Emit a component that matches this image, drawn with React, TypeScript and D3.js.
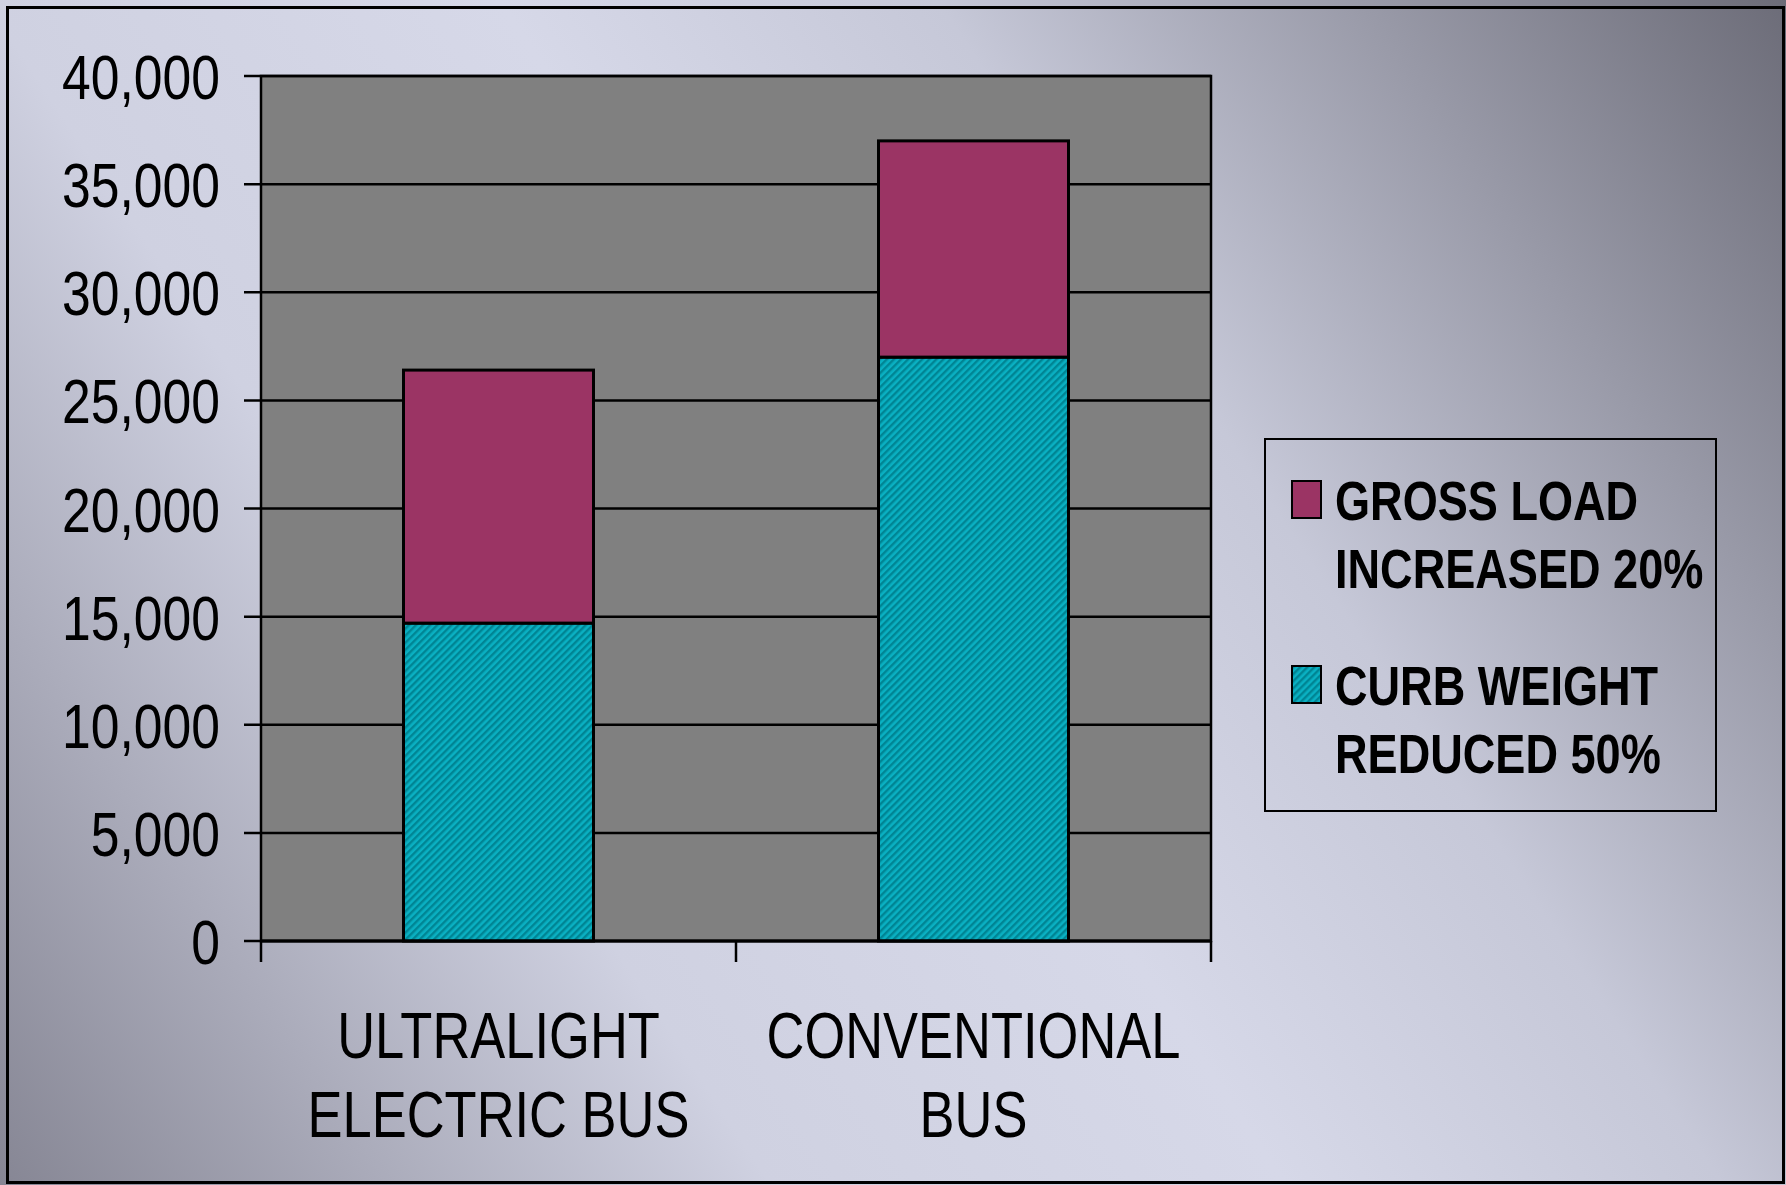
import * as d3 from 'd3';
import { useEffect, useRef } from 'react';

const categories = [['ULTRALIGHT', 'ELECTRIC BUS'], ['CONVENTIONAL', 'BUS']];
const curbWeight = [14700, 27000];
const grossLoad = [11700, 10000];
const yTicks = [0, 5000, 10000, 15000, 20000, 25000, 30000, 35000, 40000];
const legendItems = [
  { lines: ['GROSS LOAD', 'INCREASED 20%'], fill: '#9b3464' },
  { lines: ['CURB WEIGHT', 'REDUCED 50%'], fill: 'url(#teal)' },
];

const W = 1786;
const H = 1185;
const FONT = '"Liberation Sans", Arial, sans-serif';
const NARROW = 0.82; // нет узкого шрифта — сжимаем по горизонтали

const App = () => {
  const ref = useRef<SVGSVGElement>(null);

  useEffect(() => {
    if (!ref.current) return;
    const svg = d3.select(ref.current);
    svg.selectAll('*').remove();

    const defs = svg.append('defs');
    // фон
    const grad = defs.append('linearGradient')
      .attr('id', 'bg')
      .attr('gradientUnits', 'userSpaceOnUse')
      .attr('x1', W).attr('y1', 0).attr('x2', 0).attr('y2', H);
    [[0, '#6c6c78'], [0.33, '#c6c8d8'], [0.5, '#d6d8e8'], [0.7, '#cfd1e1'], [1, '#868694']].forEach(([o, c]) => {
      grad.append('stop').attr('offset', o as number).attr('stop-color', c as string);
    });

    const pat = defs.append('pattern')
      .attr('id', 'teal')
      .attr('patternUnits', 'userSpaceOnUse')
      .attr('width', 5).attr('height', 5)
      .attr('patternTransform', 'rotate(45)');
    pat.append('rect').attr('width', 5).attr('height', 5).attr('fill', '#0ab0c2');
    pat.append('rect').attr('width', 2.4).attr('height', 5).attr('fill', '#008594');

    svg.append('rect').attr('width', W).attr('height', H).attr('fill', 'url(#bg)');
    svg.append('rect')
      .attr('x', 7.5).attr('y', 7.5).attr('width', W - 10).attr('height', H - 10)
      .attr('fill', 'none').attr('stroke', '#000').attr('stroke-width', 3);

    const label = (txt: string, tx: number, ty: number, size: number, anchor: string, bold = false) => {
      svg.append('text')
        .text(txt)
        .attr('transform', `translate(${tx},${ty}) scale(${NARROW},1)`)
        .attr('text-anchor', anchor)
        .attr('font-family', FONT)
        .attr('font-weight', bold ? 'bold' : 'normal')
        .attr('font-size', size)
        .attr('fill', '#000');
    };

    const left = 261, right = 1211, top = 76, bottom = 941;
    const x = d3.scaleBand<number>().domain(d3.range(categories.length)).range([left, right]).paddingInner(0).paddingOuter(0);
    const y = d3.scaleLinear().domain([0, 40000]).range([bottom, top]);
    const barW = x.bandwidth() / 2.5;

    // область построения
    svg.append('rect')
      .attr('x', left).attr('y', top).attr('width', right - left).attr('height', bottom - top)
      .attr('fill', '#808080').attr('stroke', '#000').attr('stroke-width', 2.5);

    yTicks.forEach((t) => {
      svg.append('line')
        .attr('x1', left - 17).attr('x2', right)
        .attr('y1', y(t)).attr('y2', y(t))
        .attr('stroke', '#000').attr('stroke-width', 2.5);
      label(d3.format(',')(t), 220, y(t) + 23, 63, 'end');
    });

    // столбцы
    categories.forEach((_, i) => {
      const bx = x(i)! + (x.bandwidth() - barW) / 2;
      svg.append('rect')
        .attr('x', bx).attr('y', y(curbWeight[i]))
        .attr('width', barW).attr('height', y(0) - y(curbWeight[i]))
        .attr('fill', 'url(#teal)').attr('stroke', '#000').attr('stroke-width', 3);
      svg.append('rect')
        .attr('x', bx).attr('y', y(curbWeight[i] + grossLoad[i]))
        .attr('width', barW).attr('height', y(curbWeight[i]) - y(curbWeight[i] + grossLoad[i]))
        .attr('fill', '#9b3464').attr('stroke', '#000').attr('stroke-width', 3);
    });

    // ось X
    svg.append('line')
      .attr('x1', left).attr('x2', right).attr('y1', bottom).attr('y2', bottom)
      .attr('stroke', '#000').attr('stroke-width', 3);
    [left, ...categories.map((_, i) => x(i)! + x.bandwidth())].forEach((tx) => {
      svg.append('line')
        .attr('x1', tx).attr('x2', tx).attr('y1', bottom).attr('y2', bottom + 21)
        .attr('stroke', '#000').attr('stroke-width', 2.5);
    });

    categories.forEach((lines, i) => {
      lines.forEach((ln, j) => {
        label(ln, x(i)! + x.bandwidth() / 2, 1058 + j * 79, 64, 'middle');
      });
    });

    // легенда
    svg.append('rect')
      .attr('x', 1265).attr('y', 439).attr('width', 451).attr('height', 372)
      .attr('fill', 'none').attr('stroke', '#000').attr('stroke-width', 2);
    legendItems.forEach((item, i) => {
      const oy = 481 + i * 185;
      svg.append('rect')
        .attr('x', 1292).attr('y', oy).attr('width', 29).attr('height', 37)
        .attr('fill', item.fill).attr('stroke', '#000').attr('stroke-width', 2);
      item.lines.forEach((ln, j) => {
        label(ln, 1335, oy + 39 + j * 68, 55, 'start', true);
      });
    });
  }, []);

  return <svg ref={ref} width={W} height={H} style={{ position: 'absolute', left: 0, top: 0 }} />;
};

export default App;
